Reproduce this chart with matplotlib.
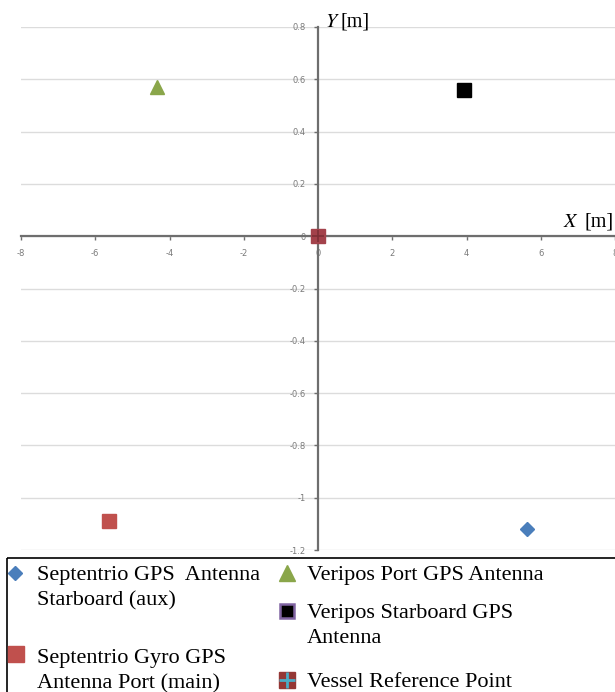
import matplotlib
matplotlib.use("Agg")
import matplotlib.pyplot as plt
import numpy as np

# ---- data ----
series_names = ["Septentrio GPS Antenna Starboard (aux)",
                "Septentrio Gyro GPS Antenna Port (main)",
                "Veripos Port GPS Antenna",
                "Veripos Starboard GPS Antenna",
                "Vessel Reference Point"]
x_vals = [5.62, -5.62, -4.33, 3.92, 0.0]
y_vals = [-1.12, -1.09, 0.57, 0.56, 0.0]
x_ticks = [-8, -6, -4, -2, 0, 2, 4, 6, 8]
y_ticks = [-1.2, -1.0, -0.8, -0.6, -0.4, -0.2, 0.0, 0.2, 0.4, 0.6, 0.8]
y_tick_labels = ["-1.2", "-1", "-0.8", "-0.6", "-0.4", "-0.2", "0", "0.2", "0.4", "0.6", "0.8"]

W, H = 615, 692
fig = plt.figure(figsize=(W / 100, H / 100), dpi=100)
fig.patch.set_facecolor("white")

ax = fig.add_axes([21 / W, 142 / H, 594 / W, 523 / H])
ax.set_xlim(-8, 8)
ax.set_ylim(-1.2, 0.8)
ax.set_facecolor("white")

for s in ["top", "right"]:
    ax.spines[s].set_visible(False)
for s in ["left", "bottom"]:
    ax.spines[s].set_position(("data", 0))
    ax.spines[s].set_color("#6e6e6e")
    ax.spines[s].set_linewidth(1.6)

ax.set_xticks(x_ticks)
ax.set_xticklabels([str(t) for t in x_ticks])
ax.set_yticks(y_ticks)
ax.set_yticklabels(y_tick_labels)
ax.tick_params(axis="both", direction="out", length=3, width=1, color="#6e6e6e",
               labelsize=6, labelcolor="#7a7a7a", pad=6)
ax.yaxis.grid(True, color="#dcdcdc", linewidth=1)
ax.set_axisbelow(True)

# markers
ax.plot(x_vals[0], y_vals[0], marker="D", color="#4a7ebb", ms=7.5, ls="none", zorder=5)
ax.plot(x_vals[1], y_vals[1], marker="s", color="#c0504d", ms=9.5, ls="none", zorder=5)
ax.plot(x_vals[2], y_vals[2], marker="^", color="#8aa64a", ms=9.5, ls="none", zorder=5)
ax.plot(x_vals[3], y_vals[3], marker="s", color="black", ms=9.5, ls="none", zorder=5)
ax.plot(x_vals[4], y_vals[4], marker="s", color="#a3424b", ms=10.5, ls="none", zorder=6)
ax.plot(x_vals[4], y_vals[4], marker="+", color="#7d2f36", ms=9, mew=1.2, ls="none", zorder=7)

# legend / labels drawn in pixel space
lax = fig.add_axes([0, 0, 1, 1])
lax.set_xlim(0, W)
lax.set_ylim(H, 0)
lax.axis("off")

lkw = dict(fontsize=14.5, family="Liberation Serif", va="baseline", color="black")
lax.text(325, 27, "$Y$", ha="left", math_fontfamily="stix", **lkw)
lax.text(341, 27, "[m]", ha="left", **lkw)
lax.text(563, 227, "$X$", ha="left", math_fontfamily="stix", **lkw)
lax.text(614, 227, "[m]", ha="right", **lkw)

lax.add_patch(plt.Rectangle((7, 558), 620, 150, fill=False, ec="black", lw=1.2))

tkw = dict(fontsize=16, family="Liberation Serif", ha="left", va="baseline", color="black")
lax.plot(15, 573, marker="D", color="#4a7ebb", ms=7.5)
lax.text(37, 580, "Septentrio GPS  Antenna", **tkw)
lax.text(37, 605, "Starboard (aux)", **tkw)
lax.plot(16, 654, marker="s", color="#c0504d", ms=11)
lax.text(37, 663, "Septentrio Gyro GPS", **tkw)
lax.text(37, 688, "Antenna Port (main)", **tkw)
lax.plot(287, 573, marker="^", color="#8aa64a", ms=11)
lax.text(307, 580, "Veripos Port GPS Antenna", **tkw)
lax.plot(287, 611, marker="s", mfc="black", mec="#8064a2", mew=1.8, ms=9.5)
lax.text(307, 618, "Veripos Starboard GPS", **tkw)
lax.text(307, 643, "Antenna", **tkw)
lax.plot(287, 680, marker="s", color="#953735", ms=11)
lax.plot(287, 680, marker="+", color="#4bacc6", ms=11, mew=2)
lax.text(307, 687, "Vessel Reference Point", **tkw)

fig.savefig("out.png", dpi=100, facecolor="white")
